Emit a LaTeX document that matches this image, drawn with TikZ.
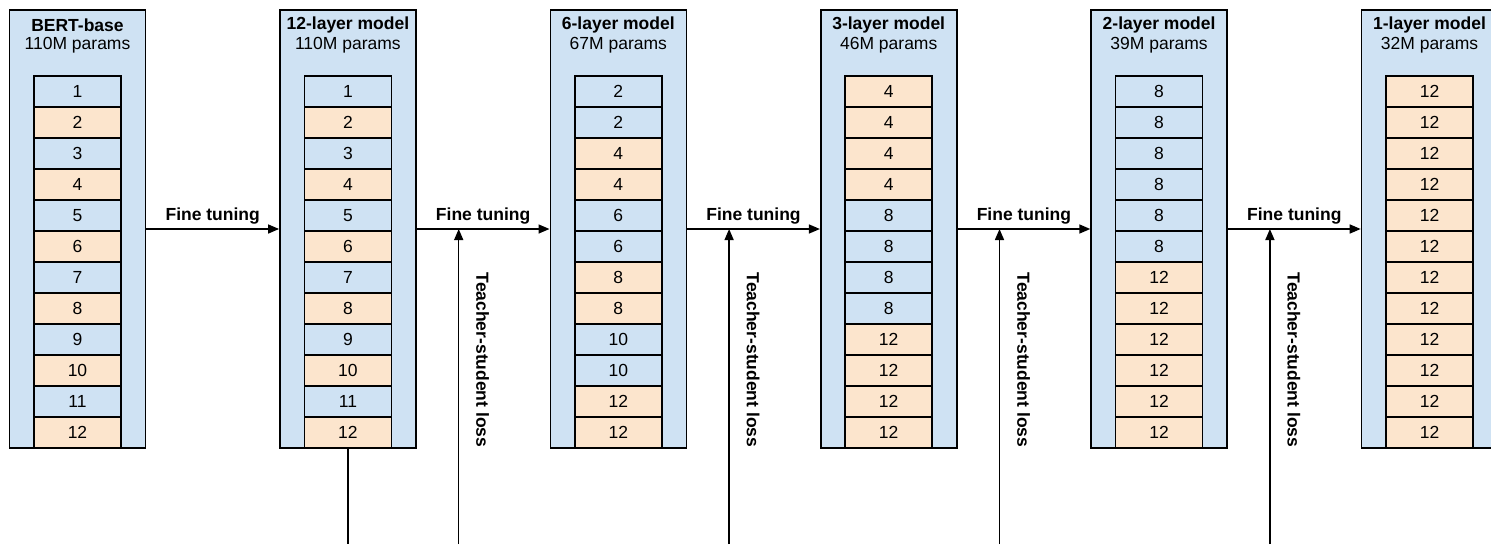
\documentclass[tikz,border=0pt]{standalone}
\usepackage{fontspec}
\setmainfont{Liberation Sans}
\usetikzlibrary{arrows.meta,positioning}
\definecolor{layerblue}{HTML}{CFE2F3}
\definecolor{layerorange}{HTML}{FCE5CD}
\tikzset{
  modelbox/.style={draw, line width=1.6pt, fill=layerblue, minimum width=136pt, minimum height=438pt, inner sep=0pt},
  layerbox/.style={draw, line width=1.6pt, minimum width=87pt, minimum height=31pt, inner sep=0pt},
  flow/.style={-{Triangle[length=11pt,width=9pt]}, line width=1.5pt},
  lbl/.style={font=\fontsize{17.5}{21}\selectfont\bfseries}
}
\begin{document}
\begin{tikzpicture}[x=1pt, y=-1pt, font=\fontsize{17.5}{21}\selectfont]
    \useasboundingbox (0,0) rectangle (1491,544);
    \clip (0,0) rectangle (1491,544);

    % Draw the model boxes and their titles
    \foreach \k/\name/\size in {1/BERT-base/110M, 2/12-layer model/110M, 3/6-layer model/67M,
                                4/3-layer model/46M, 5/2-layer model/39M, 6/1-layer model/32M} {
        \node[modelbox] (m\k) at ({77.5+(\k-1)*270.4}, 229) {};
        \node[lbl] (t\k) at ({77.5+(\k-1)*270.4}, 25) {\name};
        \node (p\k) at ({77.5+(\k-1)*270.4}, 45) {\size\ params};
    }

    % Draw the layers
    \foreach \n/\c [count=\i] in {1/blue,2/orange,3/blue,4/orange,5/blue,6/orange,7/blue,8/orange,9/blue,10/orange,11/blue,12/orange}
        \node[layerbox, fill=layer\c] (m1l\i) at (77.5, 60.5+31*\i) {\n};
    \foreach \n/\c [count=\i] in {1/blue,2/orange,3/blue,4/orange,5/blue,6/orange,7/blue,8/orange,9/blue,10/orange,11/blue,12/orange}
        \node[layerbox, fill=layer\c] (m2l\i) at (347.9, 60.5+31*\i) {\n};
    \foreach \n/\c [count=\i] in {2/blue,2/blue,4/orange,4/orange,6/blue,6/blue,8/orange,8/orange,10/blue,10/blue,12/orange,12/orange}
        \node[layerbox, fill=layer\c] (m3l\i) at (618.3, 60.5+31*\i) {\n};
    \foreach \n/\c [count=\i] in {4/orange,4/orange,4/orange,4/orange,8/blue,8/blue,8/blue,8/blue,12/orange,12/orange,12/orange,12/orange}
        \node[layerbox, fill=layer\c] (m4l\i) at (888.7, 60.5+31*\i) {\n};
    \foreach \n/\c [count=\i] in {8/blue,8/blue,8/blue,8/blue,8/blue,8/blue,12/orange,12/orange,12/orange,12/orange,12/orange,12/orange}
        \node[layerbox, fill=layer\c] (m5l\i) at (1159.1, 60.5+31*\i) {\n};
    \foreach \i in {1,...,12}
        \node[layerbox, fill=layerorange] (m6l\i) at (1429.5, 60.5+31*\i) {12};

    % Draw the fine tuning arrows
    \foreach \a/\b in {1/2,2/3,3/4,4/5,5/6}
        \draw[flow] (m\a.east) -- (m\b.west) node[midway, above=1pt, lbl] {Fine tuning};

    % Draw the teacher-student loss arrows
    \foreach \k in {2,...,5} {
        \path (m\k.east) ++(42,0) coordinate (j\k);
        \coordinate (s\k) at (j\k |- 0,544);
        \draw[flow] (s\k) -- (j\k);
        \path (j\k) ++(24,131) node[lbl, rotate=-90] (loss\k) {Teacher-student loss};
    }

    % Draw the teacher output line
    \coordinate (d2) at (m2l12.south |- 0,544);
    \draw[line width=1.5pt] (m2l12.south) -- (d2);
\end{tikzpicture}
\end{document}
